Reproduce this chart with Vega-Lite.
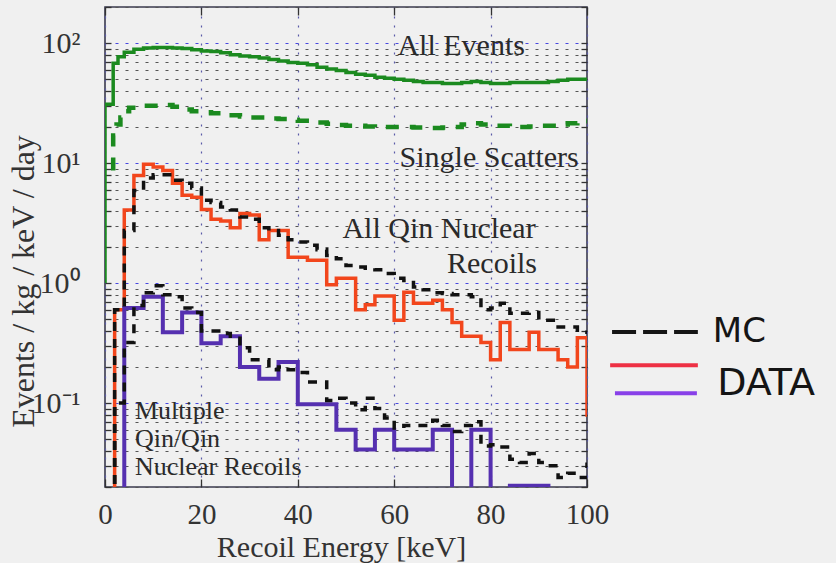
{
  "$schema": "https://vega.github.io/schema/vega-lite/v6.json",
  "autosize": {"type": "none"},
  "padding": {"left": 105, "top": 7, "right": 249, "bottom": 76},
  "width": 482,
  "height": 480,
  "background": "#f0f0f0",
  "config": {
    "view": {"stroke": "#3a3a4e", "strokeWidth": 1.6}
  },
  "datasets": {
    "allev": [
      {"e": 0, "v": 1.0}, {"e": 0, "v": 31}, {"e": 1.7, "v": 68}, {"e": 2.7, "v": 77}, {"e": 4, "v": 84}, {"e": 6, "v": 89},
      {"e": 8, "v": 91}, {"e": 10, "v": 92}, {"e": 12, "v": 92}, {"e": 14, "v": 91}, {"e": 16, "v": 90}, {"e": 18, "v": 88},
      {"e": 20, "v": 86}, {"e": 22, "v": 85}, {"e": 24, "v": 83}, {"e": 26, "v": 80}, {"e": 28, "v": 78}, {"e": 30, "v": 77},
      {"e": 32, "v": 75}, {"e": 34, "v": 73}, {"e": 36, "v": 71}, {"e": 38, "v": 69}, {"e": 40, "v": 68}, {"e": 42, "v": 66},
      {"e": 44, "v": 63}, {"e": 46, "v": 61}, {"e": 48, "v": 59}, {"e": 50, "v": 57}, {"e": 52, "v": 55}, {"e": 54, "v": 54},
      {"e": 56, "v": 52}, {"e": 58, "v": 51}, {"e": 60, "v": 50}, {"e": 62, "v": 49}, {"e": 64, "v": 48}, {"e": 66, "v": 47},
      {"e": 68, "v": 47}, {"e": 70, "v": 46}, {"e": 72, "v": 46}, {"e": 74, "v": 47}, {"e": 76, "v": 48}, {"e": 78, "v": 47},
      {"e": 80, "v": 46}, {"e": 82, "v": 46}, {"e": 84, "v": 47}, {"e": 86, "v": 47}, {"e": 88, "v": 47}, {"e": 90, "v": 47},
      {"e": 92, "v": 48}, {"e": 94, "v": 49}, {"e": 96, "v": 50}, {"e": 98, "v": 50}, {"e": 100, "v": 50}
    ],
    "single": [
      {"e": 1.7, "v": 8.7}, {"e": 1.7, "v": 17}, {"e": 2.4, "v": 21}, {"e": 3.2, "v": 24}, {"e": 4, "v": 27}, {"e": 5, "v": 29},
      {"e": 8, "v": 30}, {"e": 12, "v": 30.5}, {"e": 14, "v": 29.5}, {"e": 16, "v": 28}, {"e": 18, "v": 27}, {"e": 20, "v": 26.6},
      {"e": 22, "v": 26}, {"e": 24, "v": 25}, {"e": 28, "v": 24.5}, {"e": 30, "v": 24}, {"e": 34, "v": 23.5}, {"e": 36, "v": 23.3},
      {"e": 38, "v": 23}, {"e": 40, "v": 22.5}, {"e": 44, "v": 21.8}, {"e": 46, "v": 21.3}, {"e": 48, "v": 20.8}, {"e": 50, "v": 20.5},
      {"e": 54, "v": 20.2}, {"e": 56, "v": 20}, {"e": 60, "v": 20}, {"e": 64, "v": 19.8}, {"e": 66, "v": 19.6}, {"e": 70, "v": 19.8},
      {"e": 72, "v": 20}, {"e": 74, "v": 21}, {"e": 76, "v": 21.5}, {"e": 78, "v": 21}, {"e": 80, "v": 20.5}, {"e": 84, "v": 20},
      {"e": 88, "v": 20.2}, {"e": 90, "v": 20.5}, {"e": 94, "v": 21}, {"e": 96, "v": 21.5}, {"e": 98, "v": 22.4}, {"e": 100, "v": 22.4}
    ],
    "dataall": [
      {"e": 0, "v": 0.005}, {"e": 2, "v": 0.6}, {"e": 4, "v": 4.06}, {"e": 6, "v": 7.9}, {"e": 8, "v": 9.8}, {"e": 10, "v": 9.3},
      {"e": 12, "v": 8.7}, {"e": 14, "v": 6.8}, {"e": 16, "v": 5.4}, {"e": 18, "v": 5.2}, {"e": 20, "v": 4.1}, {"e": 22, "v": 3.4},
      {"e": 24, "v": 3.3}, {"e": 26, "v": 2.9}, {"e": 28, "v": 3.8}, {"e": 30, "v": 3.7}, {"e": 32, "v": 2.3}, {"e": 34, "v": 2.75},
      {"e": 36, "v": 2.75}, {"e": 38, "v": 1.64}, {"e": 40, "v": 1.64}, {"e": 42, "v": 1.55}, {"e": 44, "v": 1.55}, {"e": 46, "v": 0.97},
      {"e": 48, "v": 1.1}, {"e": 50, "v": 1.1}, {"e": 52, "v": 0.6}, {"e": 54, "v": 0.66}, {"e": 56, "v": 0.78}, {"e": 58, "v": 0.78},
      {"e": 60, "v": 0.49}, {"e": 62, "v": 0.84}, {"e": 64, "v": 0.68}, {"e": 66, "v": 0.68}, {"e": 68, "v": 0.72}, {"e": 70, "v": 0.6},
      {"e": 72, "v": 0.47}, {"e": 74, "v": 0.36}, {"e": 76, "v": 0.36}, {"e": 78, "v": 0.32}, {"e": 80, "v": 0.23}, {"e": 82, "v": 0.47},
      {"e": 84, "v": 0.28}, {"e": 86, "v": 0.28}, {"e": 88, "v": 0.39}, {"e": 90, "v": 0.28}, {"e": 92, "v": 0.28}, {"e": 94, "v": 0.23},
      {"e": 96, "v": 0.2}, {"e": 98, "v": 0.35}, {"e": 100, "v": 0.077}
    ],
    "datamul": [
      {"e": 0, "v": 0.005}, {"e": 4, "v": 0.62}, {"e": 6, "v": 0.62}, {"e": 8, "v": 0.77}, {"e": 10, "v": 0.77}, {"e": 12, "v": 0.39},
      {"e": 14, "v": 0.39}, {"e": 16, "v": 0.57}, {"e": 18, "v": 0.57}, {"e": 20, "v": 0.316}, {"e": 22, "v": 0.316}, {"e": 24, "v": 0.36},
      {"e": 26, "v": 0.36}, {"e": 28, "v": 0.2}, {"e": 30, "v": 0.2}, {"e": 32, "v": 0.16}, {"e": 34, "v": 0.16}, {"e": 36, "v": 0.22},
      {"e": 38, "v": 0.22}, {"e": 40, "v": 0.098}, {"e": 42, "v": 0.098}, {"e": 44, "v": 0.098}, {"e": 46, "v": 0.098}, {"e": 48, "v": 0.06},
      {"e": 50, "v": 0.06}, {"e": 52, "v": 0.041}, {"e": 54, "v": 0.041}, {"e": 56, "v": 0.06}, {"e": 58, "v": 0.06}, {"e": 60, "v": 0.041},
      {"e": 62, "v": 0.041}, {"e": 64, "v": 0.041}, {"e": 66, "v": 0.041}, {"e": 68, "v": 0.06}, {"e": 70, "v": 0.06}, {"e": 72, "v": 0.005},
      {"e": 74, "v": 0.005}, {"e": 76, "v": 0.06}, {"e": 78, "v": 0.06}, {"e": 80, "v": 0.005}, {"e": 82, "v": 0.005}, {"e": 84, "v": 0.0205},
      {"e": 86, "v": 0.0205}, {"e": 88, "v": 0.0205}, {"e": 90, "v": 0.0205}, {"e": 92, "v": 0.005}, {"e": 100, "v": 0.005}
    ],
    "mcall": [
      {"e": 0, "v": 0.005}, {"e": 2, "v": 0.6}, {"e": 4, "v": 2.75}, {"e": 6, "v": 5.9}, {"e": 8, "v": 7.5}, {"e": 10, "v": 8.0},
      {"e": 12, "v": 8.0}, {"e": 14, "v": 7.2}, {"e": 16, "v": 6.8}, {"e": 18, "v": 6.2}, {"e": 20, "v": 4.9}, {"e": 22, "v": 4.7},
      {"e": 24, "v": 4.3}, {"e": 26, "v": 4.06}, {"e": 28, "v": 3.55}, {"e": 30, "v": 3.4}, {"e": 32, "v": 2.9}, {"e": 34, "v": 2.75},
      {"e": 36, "v": 2.5}, {"e": 38, "v": 2.3}, {"e": 40, "v": 2.2}, {"e": 42, "v": 2.07}, {"e": 44, "v": 1.9}, {"e": 46, "v": 1.7},
      {"e": 48, "v": 1.6}, {"e": 50, "v": 1.4}, {"e": 52, "v": 1.36}, {"e": 54, "v": 1.33}, {"e": 56, "v": 1.29}, {"e": 58, "v": 1.2},
      {"e": 60, "v": 1.1}, {"e": 62, "v": 1.05}, {"e": 64, "v": 0.93}, {"e": 66, "v": 0.88}, {"e": 68, "v": 0.83}, {"e": 70, "v": 0.82},
      {"e": 72, "v": 0.8}, {"e": 74, "v": 0.8}, {"e": 76, "v": 0.77}, {"e": 78, "v": 0.6}, {"e": 80, "v": 0.62}, {"e": 82, "v": 0.68},
      {"e": 84, "v": 0.56}, {"e": 86, "v": 0.56}, {"e": 88, "v": 0.57}, {"e": 90, "v": 0.49}, {"e": 92, "v": 0.49}, {"e": 94, "v": 0.43},
      {"e": 96, "v": 0.43}, {"e": 98, "v": 0.39}, {"e": 100, "v": 0.39}
    ],
    "mcmul": [
      {"e": 0, "v": 0.005}, {"e": 2, "v": 0.1}, {"e": 4, "v": 0.32}, {"e": 6, "v": 0.65}, {"e": 8, "v": 0.83}, {"e": 10, "v": 0.95},
      {"e": 12, "v": 0.8}, {"e": 14, "v": 0.77}, {"e": 16, "v": 0.62}, {"e": 18, "v": 0.57}, {"e": 20, "v": 0.4}, {"e": 22, "v": 0.4},
      {"e": 24, "v": 0.38}, {"e": 26, "v": 0.36}, {"e": 28, "v": 0.29}, {"e": 30, "v": 0.23}, {"e": 32, "v": 0.23}, {"e": 34, "v": 0.19},
      {"e": 36, "v": 0.2}, {"e": 38, "v": 0.19}, {"e": 40, "v": 0.18}, {"e": 42, "v": 0.15}, {"e": 44, "v": 0.15}, {"e": 46, "v": 0.105},
      {"e": 48, "v": 0.11}, {"e": 50, "v": 0.1}, {"e": 52, "v": 0.088}, {"e": 54, "v": 0.11}, {"e": 56, "v": 0.09}, {"e": 58, "v": 0.075},
      {"e": 60, "v": 0.062}, {"e": 62, "v": 0.065}, {"e": 64, "v": 0.065}, {"e": 66, "v": 0.065}, {"e": 68, "v": 0.072}, {"e": 70, "v": 0.065},
      {"e": 72, "v": 0.058}, {"e": 74, "v": 0.065}, {"e": 76, "v": 0.07}, {"e": 78, "v": 0.044}, {"e": 80, "v": 0.045}, {"e": 82, "v": 0.043},
      {"e": 84, "v": 0.034}, {"e": 86, "v": 0.032}, {"e": 88, "v": 0.038}, {"e": 90, "v": 0.032}, {"e": 92, "v": 0.03}, {"e": 94, "v": 0.024},
      {"e": 96, "v": 0.026}, {"e": 98, "v": 0.024}, {"e": 100, "v": 0.032}
    ],
    "one": [{}]
  },
  "resolve": {"axis": {"x": "independent", "y": "independent"}},
  "layer": [
    {
      "data": {"name": "allev"},
      "mark": {"type": "line", "interpolate": "step-after", "color": "#1b8a1f", "strokeWidth": 3.5, "clip": true},
      "encoding": {
        "x": {
          "field": "e", "type": "quantitative",
          "scale": {"domain": [0, 100], "nice": false, "zero": false},
          "axis": {
            "orient": "bottom", "values": [0, 20, 40, 60, 80, 100],
            "title": "Recoil Energy [keV]",
            "grid": true, "gridColor": "#5a5aa8", "gridDash": [2, 7], "gridWidth": 1.2,
            "domain": false, "tickSize": -8, "tickColor": "#333", "tickWidth": 1.3,
            "labelPadding": 21, "labelFlush": false, "labelOverlap": false,
            "labelFont": "Liberation Serif", "labelFontSize": 29, "labelColor": "#333",
            "titleFont": "Liberation Serif", "titleFontSize": 30, "titleFontWeight": "normal", "titleColor": "#333",
            "titleX": 236, "titleY": 60, "titleBaseline": "middle", "titleAlign": "center"
          }
        },
        "y": {
          "field": "v", "type": "quantitative",
          "scale": {"type": "log", "domain": [0.02, 200], "nice": false},
          "axis": {
            "orient": "left",
            "values": [0.02, 0.03, 0.04, 0.05, 0.06, 0.07, 0.08, 0.09, 0.1, 0.2, 0.3, 0.4, 0.5, 0.6, 0.7, 0.8, 0.9, 1, 2, 3, 4, 5, 6, 7, 8, 9, 10, 20, 30, 40, 50, 60, 70, 80, 90, 100, 200],
            "labelExpr": "datum.value == 100 ? '10²' : datum.value == 10 ? '10¹' : datum.value == 1 ? '10⁰' : datum.value == 0.1 ? '10⁻¹' : ''",
            "title": "Events / kg / keV / day",
            "grid": true,
            "gridColor": {"condition": {"test": "abs(log(datum.value)/LN10 - round(log(datum.value)/LN10)) < 0.001", "value": "#4848e0"}, "value": "#555555"},
            "gridDash": [3, 7], "gridWidth": 1.2,
            "domain": false, "tickSize": -6, "tickColor": "#333", "tickWidth": 1.3,
            "labelPadding": 31, "labelOverlap": false, "labelBound": false, "labelFlush": false,
            "labelFont": "Liberation Serif", "labelFontSize": 30, "labelColor": "#333",
            "titleFont": "Liberation Serif", "titleFontSize": 32, "titleFontWeight": "normal", "titleColor": "#333",
            "titleX": -82, "titleY": 274, "titleBaseline": "middle", "titleAlign": "center", "titleAngle": -90
          }
        }
      }
    },
    {
      "data": {"name": "single"},
      "mark": {"type": "line", "interpolate": "step-after", "color": "#1b8a1f", "strokeWidth": 4.5, "strokeDash": [13, 11], "clip": true},
      "encoding": {
        "x": {"field": "e", "type": "quantitative",
          "axis": {"orient": "top", "values": [0, 20, 40, 60, 80, 100], "labels": false, "grid": false, "domain": false, "title": null, "tickSize": -8, "tickColor": "#333", "tickWidth": 1.3}},
        "y": {"field": "v", "type": "quantitative",
          "axis": {"orient": "right", "values": [0.02, 0.03, 0.04, 0.05, 0.06, 0.07, 0.08, 0.09, 0.1, 0.2, 0.3, 0.4, 0.5, 0.6, 0.7, 0.8, 0.9, 1, 2, 3, 4, 5, 6, 7, 8, 9, 10, 20, 30, 40, 50, 60, 70, 80, 90, 100, 200], "labels": false, "grid": false, "domain": false, "title": null, "tickSize": -6, "tickColor": "#333", "tickWidth": 1.3}}
      }
    },
    {
      "data": {"name": "dataall"},
      "mark": {"type": "line", "interpolate": "step-after", "color": "#f2461c", "strokeWidth": 3.5, "clip": true},
      "encoding": {"x": {"field": "e", "type": "quantitative", "axis": null}, "y": {"field": "v", "type": "quantitative", "axis": null}}
    },
    {
      "data": {"name": "datamul"},
      "mark": {"type": "line", "interpolate": "step-after", "color": "#5530b0", "strokeWidth": 4, "clip": true},
      "encoding": {"x": {"field": "e", "type": "quantitative", "axis": null}, "y": {"field": "v", "type": "quantitative", "axis": null}}
    },
    {
      "data": {"name": "mcall"},
      "mark": {"type": "line", "interpolate": "step-after", "color": "#111111", "strokeWidth": 3.5, "strokeDash": [9, 8], "clip": true},
      "encoding": {"x": {"field": "e", "type": "quantitative", "axis": null}, "y": {"field": "v", "type": "quantitative", "axis": null}}
    },
    {
      "data": {"name": "mcmul"},
      "mark": {"type": "line", "interpolate": "step-after", "color": "#111111", "strokeWidth": 3.5, "strokeDash": [9, 8], "clip": true},
      "encoding": {"x": {"field": "e", "type": "quantitative", "axis": null}, "y": {"field": "v", "type": "quantitative", "axis": null}}
    },
    {
      "data": {"name": "one"},
      "mark": {"type": "text", "font": "Liberation Serif", "fontSize": 30, "color": "#2a2a2a", "align": "center", "baseline": "alphabetic"},
      "encoding": {"x": {"datum": 73.9, "axis": null}, "y": {"datum": 79, "axis": null}, "text": {"value": "All Events"}}
    },
    {
      "data": {"name": "one"},
      "mark": {"type": "text", "font": "Liberation Serif", "fontSize": 30, "color": "#2a2a2a", "align": "center", "baseline": "alphabetic"},
      "encoding": {"x": {"datum": 79.7, "axis": null}, "y": {"datum": 9.26, "axis": null}, "text": {"value": "Single Scatters"}}
    },
    {
      "data": {"name": "one"},
      "mark": {"type": "text", "font": "Liberation Serif", "fontSize": 30, "color": "#2a2a2a", "align": "center", "baseline": "alphabetic"},
      "encoding": {"x": {"datum": 69.3, "axis": null}, "y": {"datum": 2.37, "axis": null}, "text": {"value": "All Qin Nuclear"}}
    },
    {
      "data": {"name": "one"},
      "mark": {"type": "text", "font": "Liberation Serif", "fontSize": 30, "color": "#2a2a2a", "align": "center", "baseline": "alphabetic"},
      "encoding": {"x": {"datum": 80.3, "axis": null}, "y": {"datum": 1.21, "axis": null}, "text": {"value": "Recoils"}}
    },
    {
      "data": {"name": "one"},
      "mark": {"type": "text", "font": "Liberation Serif", "fontSize": 26, "color": "#2a2a2a", "align": "left", "baseline": "alphabetic"},
      "encoding": {"x": {"datum": 6.2, "axis": null}, "y": {"datum": 0.0736, "axis": null}, "text": {"value": "Multiple"}}
    },
    {
      "data": {"name": "one"},
      "mark": {"type": "text", "font": "Liberation Serif", "fontSize": 26, "color": "#2a2a2a", "align": "left", "baseline": "alphabetic"},
      "encoding": {"x": {"datum": 6.2, "axis": null}, "y": {"datum": 0.043, "axis": null}, "text": {"value": "Qin/Qin"}}
    },
    {
      "data": {"name": "one"},
      "mark": {"type": "text", "font": "Liberation Serif", "fontSize": 26, "color": "#2a2a2a", "align": "left", "baseline": "alphabetic"},
      "encoding": {"x": {"datum": 6.2, "axis": null}, "y": {"datum": 0.0251, "axis": null}, "text": {"value": "Nuclear Recoils"}}
    },
    {
      "data": {"name": "one"},
      "mark": {"type": "rule", "stroke": "#151515", "strokeWidth": 4, "strokeDash": [24, 7], "clip": false},
      "encoding": {"x": {"datum": 105.2, "axis": null}, "x2": {"datum": 123}, "y": {"datum": 0.391, "axis": null}}
    },
    {
      "data": {"name": "one"},
      "mark": {"type": "rule", "stroke": "#ee3044", "strokeWidth": 4, "clip": false},
      "encoding": {"x": {"datum": 104.8, "axis": null}, "x2": {"datum": 123}, "y": {"datum": 0.207, "axis": null}}
    },
    {
      "data": {"name": "one"},
      "mark": {"type": "rule", "stroke": "#8840e8", "strokeWidth": 4, "clip": false},
      "encoding": {"x": {"datum": 105.8, "axis": null}, "x2": {"datum": 122.8}, "y": {"datum": 0.121, "axis": null}}
    },
    {
      "data": {"name": "one"},
      "mark": {"type": "text", "font": "DejaVu Sans", "fontSize": 34, "color": "#151515", "align": "left", "baseline": "alphabetic"},
      "encoding": {"x": {"datum": 126.1, "axis": null}, "y": {"datum": 0.322, "axis": null}, "text": {"value": "MC"}}
    },
    {
      "data": {"name": "one"},
      "mark": {"type": "text", "font": "DejaVu Sans", "fontSize": 38, "color": "#151515", "align": "left", "baseline": "alphabetic"},
      "encoding": {"x": {"datum": 127, "axis": null}, "y": {"datum": 0.117, "axis": null}, "text": {"value": "DATA"}}
    }
  ]
}
